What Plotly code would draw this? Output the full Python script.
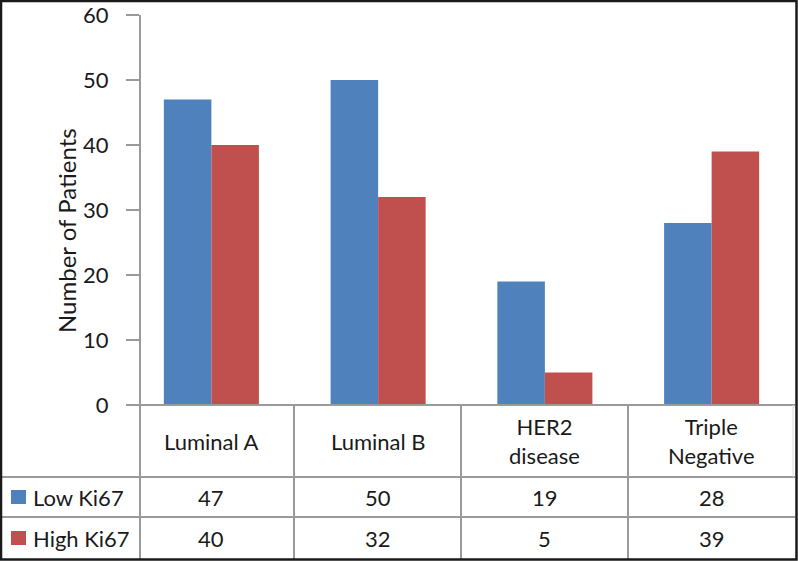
import plotly.graph_objects as go

categories = ["Luminal A", "Luminal B", "HER2 disease", "Triple Negative"]
header_labels = ["Luminal A", "Luminal B", "HER2<br>disease", "Triple<br>Negative"]
series_names = ["Low Ki67", "High Ki67"]
low_ki67 = [47, 50, 19, 28]
high_ki67 = [40, 32, 5, 39]
y_ticks = [0, 10, 20, 30, 40, 50, 60]

W, H = 798, 561
BLUE = "#4F81BD"
RED = "#C0504D"
GRID = "#9a9a9a"
TXT = "#1a1a1a"
FONT = "Lato"
FS = 22


def px(x):
    return x / W


def py(y):
    return 1 - y / H


fig = go.Figure()
fig.add_trace(go.Bar(x=categories, y=low_ki67, name=series_names[0],
                     marker=dict(color=BLUE, line=dict(width=0))))
fig.add_trace(go.Bar(x=categories, y=high_ki67, name=series_names[1],
                     marker=dict(color=RED, line=dict(width=0))))

shapes = []
shapes.append(dict(type="line", xref="paper", yref="paper",
                   x0=px(127), x1=px(795), y0=py(405), y1=py(405),
                   line=dict(color=GRID, width=2)))
for yy in [477, 517]:
    shapes.append(dict(type="line", xref="paper", yref="paper",
                       x0=px(0), x1=px(795), y0=py(yy), y1=py(yy),
                       line=dict(color=GRID, width=2)))
for xx in [140, 294, 461, 628]:
    shapes.append(dict(type="line", xref="paper", yref="paper",
                       x0=px(xx), x1=px(xx), y0=py(405), y1=py(559),
                       line=dict(color=GRID, width=2)))
shapes.append(dict(type="line", xref="paper", yref="paper",
                   x0=px(793), x1=px(793), y0=py(405), y1=py(477),
                   line=dict(color="#dddddd", width=1)))
for yc, col in [(497, BLUE), (538, RED)]:
    shapes.append(dict(type="rect", xref="paper", yref="paper",
                       x0=px(11), x1=px(26), y0=py(yc - 7), y1=py(yc + 7),
                       fillcolor=col, line=dict(width=0)))
shapes.append(dict(type="rect", xref="paper", yref="paper",
                   x0=px(1), x1=px(796.5), y0=py(1), y1=py(559.5),
                   line=dict(color="#1a1a1a", width=2.5)))

annotations = []
for cat, lab in zip(categories, header_labels):
    annotations.append(dict(x=cat, xref="x", y=py(441), yref="paper",
                            text=lab, showarrow=False,
                            font=dict(family=FONT, size=FS, color=TXT),
                            xanchor="center", yanchor="middle"))
for row_y, vals in [(497, low_ki67), (538, high_ki67)]:
    for cat, v in zip(categories, vals):
        annotations.append(dict(x=cat, xref="x", y=py(row_y), yref="paper",
                                text=str(v), showarrow=False,
                                font=dict(family=FONT, size=FS, color=TXT),
                                xanchor="center", yanchor="middle"))
for row_y, name in [(497, series_names[0]), (538, series_names[1])]:
    annotations.append(dict(x=px(31), xref="paper", y=py(row_y), yref="paper",
                            text=name, showarrow=False,
                            font=dict(family=FONT, size=FS, color=TXT),
                            xanchor="left", yanchor="middle"))
annotations.append(dict(x=px(66), xref="paper", y=py(231), yref="paper",
                        text="Number of Patients", showarrow=False,
                        textangle=-90,
                        font=dict(family=FONT, size=24, color=TXT),
                        xanchor="center", yanchor="middle"))

fig.update_layout(
    width=W, height=H,
    margin=dict(l=0, r=0, t=0, b=0, autoexpand=False),
    paper_bgcolor="white", plot_bgcolor="white",
    barmode="group", bargap=0.43, bargroupgap=0,
    showlegend=False,
    font=dict(family=FONT, size=FS, color=TXT),
    xaxis=dict(domain=[px(128), px(795)], range=[-0.5, 3.5],
               showticklabels=False, showline=False, showgrid=False,
               zeroline=False, ticks="", automargin=False),
    yaxis=dict(domain=[py(405), py(15)], range=[0, 60],
               anchor="free", position=px(140), automargin=False,
               tickvals=y_ticks, ticks="outside", ticklen=13,
               tickwidth=2, tickcolor=GRID,
               showline=True, linecolor=GRID, linewidth=2,
               showgrid=False, zeroline=False,
               ticklabelstandoff=13,
               tickfont=dict(family=FONT, size=FS, color=TXT)),
    shapes=shapes,
    annotations=annotations,
)

fig.write_html(
    "out.html",
    config={"displayModeBar": False},
    post_script="document.body.style.margin='0';document.body.style.overflow='hidden';",
)
